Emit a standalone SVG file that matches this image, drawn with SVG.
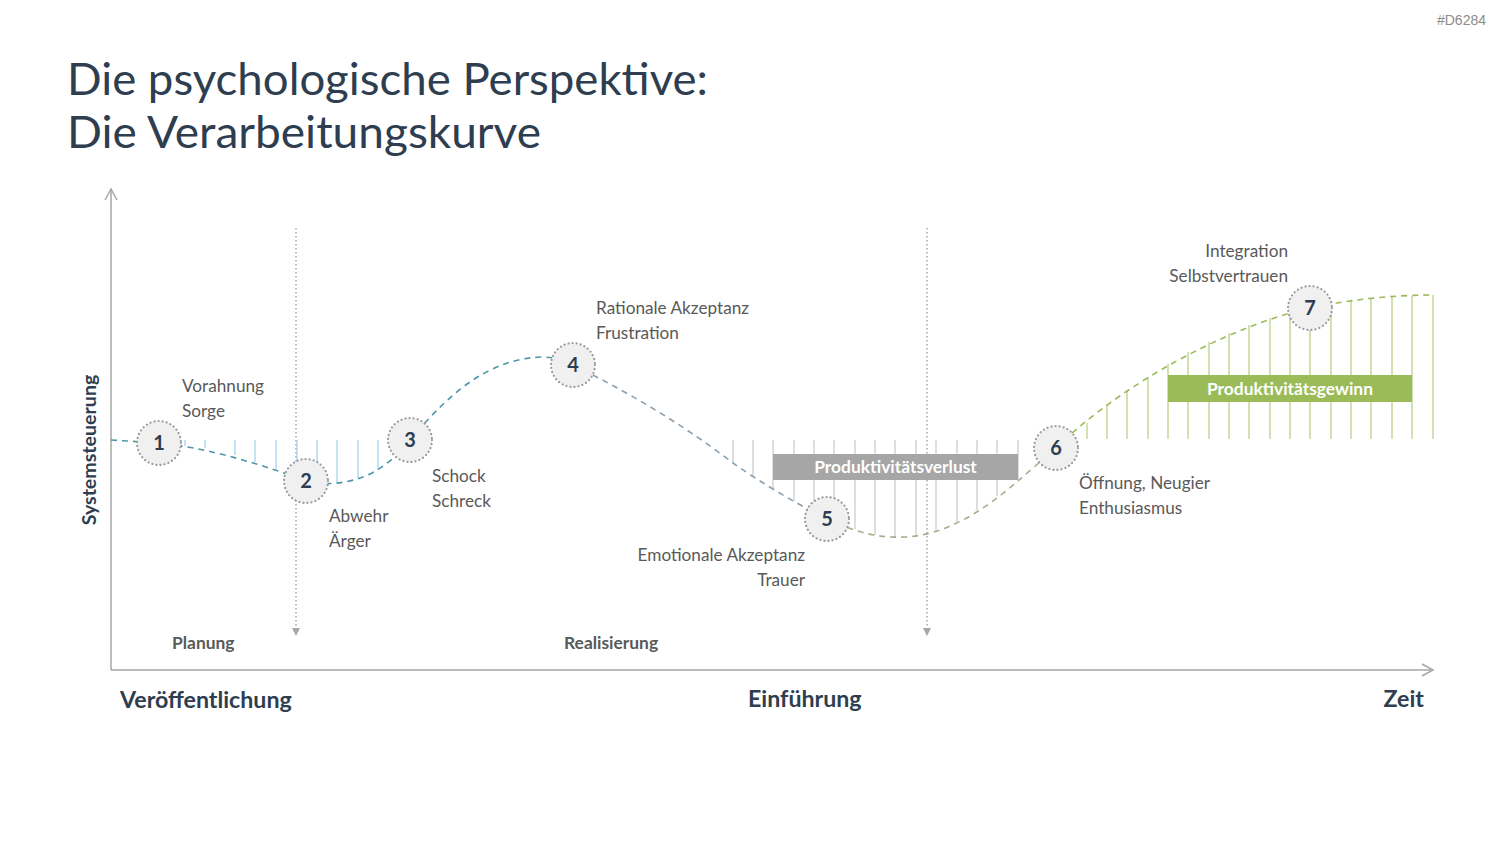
<svg xmlns="http://www.w3.org/2000/svg" width="1500" height="844" viewBox="0 0 1500 844">
<defs>
<style>
text{font-family:Lato,"Open Sans","Liberation Sans",sans-serif}
.title{font-size:44px;fill:#2e3e50}
.lbl{font-size:17.2px;fill:#595959}
.phase{font-size:17.4px;font-weight:bold;fill:#595959}
.mile{font-size:23.2px;font-weight:bold;fill:#2e3e50}
.num{font-size:20px;font-weight:bold;fill:#2e3e50;text-anchor:middle}
.circ{fill:#f0f0f0;stroke:#9a9a9a;stroke-width:2.2;stroke-dasharray:0.1 4;stroke-linecap:round}
.axis{stroke:#a6a6a6;stroke-width:1.5;fill:none}
.vdot{stroke:#a6a6a6;stroke-width:1.5;stroke-dasharray:1.5 2.5;fill:none}
.curve{fill:none;stroke-width:1.6;stroke-dasharray:6 5;stroke-linejoin:round}
.hb line{stroke:#9dd0ee;stroke-width:1.2}
.hg line{stroke:#c8c8c8;stroke-width:1.2}
.hn line{stroke:#b3cd7f;stroke-width:1.2}
.boxtxt{font-size:17.4px;font-weight:bold;fill:#ffffff;text-anchor:middle}
</style>
<marker id="openArr" markerWidth="14" markerHeight="14" refX="12" refY="7" orient="auto" markerUnits="userSpaceOnUse">
<path d="M1,1 L12,7 L1,13" fill="none" stroke="#a6a6a6" stroke-width="1.5"/>
</marker>
</defs>
<rect width="1500" height="844" fill="#ffffff"/>
<text x="1486" y="25" text-anchor="end" style="font-family:'Liberation Sans',sans-serif;font-size:14px;fill:#8c8c8c">#D6284</text>
<text class="title" x="67" y="95" textLength="641" lengthAdjust="spacingAndGlyphs">Die psychologische Perspektive:</text>
<text class="title" x="67" y="148" textLength="474" lengthAdjust="spacingAndGlyphs">Die Verarbeitungskurve</text>

<g id="axes">
<line class="axis" x1="111" y1="670" x2="111" y2="189" marker-end="url(#openArr)"/>
<line class="axis" x1="111" y1="670" x2="1433" y2="670" marker-end="url(#openArr)"/>
<text x="96" y="450" transform="rotate(-90 96 450)" text-anchor="middle" style="font-size:19.6px;font-weight:bold;fill:#2e3e50">Systemsteuerung</text>
</g>

<g id="phases">
<line class="vdot" x1="296" y1="228" x2="296" y2="628"/>
<path d="M292,628 L300,628 L296,636 Z" fill="#a6a6a6"/>
<line class="vdot" x1="927" y1="228" x2="927" y2="628"/>
<path d="M923,628 L931,628 L927,636 Z" fill="#a6a6a6"/>
<text class="phase" x="172" y="649">Planung</text>
<text class="phase" x="564" y="649">Realisierung</text>
<text class="mile" x="120" y="708">Veröffentlichung</text>
<text class="mile" x="748" y="707">Einführung</text>
<text class="mile" x="1424" y="707" text-anchor="end">Zeit</text>
</g>

<g id="hatch-blue" class="hb">
<line x1="185" y1="440" x2="185" y2="446"/>
<line x1="205" y1="440" x2="205" y2="448"/>
<line x1="235" y1="440" x2="235" y2="455"/>
<line x1="255" y1="440" x2="255" y2="462"/>
<line x1="276" y1="440" x2="276" y2="469"/>
<line x1="297" y1="440" x2="297" y2="476"/>
<line x1="317" y1="440" x2="317" y2="481"/>
<line x1="337" y1="440" x2="337" y2="482"/>
<line x1="358" y1="440" x2="358" y2="478"/>
<line x1="378" y1="440" x2="378" y2="470"/>
</g>

<g id="hatch-gray" class="hg">
<line x1="733" y1="440" x2="733" y2="463"/>
<line x1="753" y1="440" x2="753" y2="477"/>
<line x1="773" y1="440" x2="773" y2="489"/>
<line x1="794" y1="440" x2="794" y2="501"/>
<line x1="814" y1="440" x2="814" y2="512"/>
<line x1="834" y1="440" x2="834" y2="522"/>
<line x1="855" y1="440" x2="855" y2="529"/>
<line x1="875" y1="440" x2="875" y2="535"/>
<line x1="895" y1="440" x2="895" y2="537"/>
<line x1="916" y1="440" x2="916" y2="536"/>
<line x1="936" y1="440" x2="936" y2="531"/>
<line x1="957" y1="440" x2="957" y2="523"/>
<line x1="977" y1="440" x2="977" y2="510"/>
<line x1="997" y1="440" x2="997" y2="496"/>
<line x1="1018" y1="440" x2="1018" y2="480"/>
</g>

<g id="hatch-green" class="hn">
<line x1="1087" y1="439" x2="1087" y2="423"/>
<line x1="1107" y1="439" x2="1107" y2="404"/>
<line x1="1127" y1="439" x2="1127" y2="390"/>
<line x1="1148" y1="439" x2="1148" y2="377"/>
<line x1="1168" y1="439" x2="1168" y2="364"/>
<line x1="1188" y1="439" x2="1188" y2="352"/>
<line x1="1209" y1="439" x2="1209" y2="342"/>
<line x1="1229" y1="439" x2="1229" y2="333"/>
<line x1="1249" y1="439" x2="1249" y2="325"/>
<line x1="1270" y1="439" x2="1270" y2="318"/>
<line x1="1290" y1="439" x2="1290" y2="313"/>
<line x1="1310" y1="439" x2="1310" y2="308"/>
<line x1="1331" y1="439" x2="1331" y2="304"/>
<line x1="1351" y1="439" x2="1351" y2="301"/>
<line x1="1371" y1="439" x2="1371" y2="299"/>
<line x1="1392" y1="439" x2="1392" y2="297"/>
<line x1="1412" y1="439" x2="1412" y2="296"/>
<line x1="1433" y1="439" x2="1433" y2="295"/>
</g>

<g id="connectors">
<path class="curve" stroke="#4f95a8" d="M111,440 L159,443 C200,447 250,460 306,481 C325,486 350,484 372,473 C390,463 400,452 410,440 C440,405 480,360 540,357 C556,357 565,360 573,365"/>
<path class="curve" stroke="#8a9fae" d="M573,365 C640,398 690,430 733,463 C760,482 795,503 827,519"/>
<path class="curve" stroke="#a7af90" d="M827,519 C860,534 880,538 905,537 C950,535 990,505 1018,481 C1030,470 1045,458 1056,448"/>
<path class="curve" stroke="#9bbb59" d="M1056,448 C1110,395 1200,340 1290,313 C1340,300 1390,295 1433,295"/>
</g>

<g id="box-verlust">
<rect x="773" y="454" width="245" height="26" fill="#a6a6a6"/>
<text class="boxtxt" x="895.5" y="473">Produktivitätsverlust</text>
</g>
<g id="box-gewinn">
<rect x="1168" y="375" width="244" height="27" fill="#9bbb59"/>
<text class="boxtxt" x="1290" y="394.5">Produktivitätsgewinn</text>
</g>

<g id="node1"><circle class="circ" cx="159" cy="443" r="22"/><text class="num" x="159" y="450">1</text>
<text class="lbl" x="182" y="392">Vorahnung</text><text class="lbl" x="182" y="417">Sorge</text></g>
<g id="node2"><circle class="circ" cx="306" cy="481" r="22"/><text class="num" x="306" y="488">2</text>
<text class="lbl" x="329" y="522">Abwehr</text><text class="lbl" x="329" y="547">Ärger</text></g>
<g id="node3"><circle class="circ" cx="410" cy="440" r="22"/><text class="num" x="410" y="447">3</text>
<text class="lbl" x="432" y="482">Schock</text><text class="lbl" x="432" y="507">Schreck</text></g>
<g id="node4"><circle class="circ" cx="573" cy="365" r="22"/><text class="num" x="573" y="372">4</text>
<text class="lbl" x="596" y="314">Rationale Akzeptanz</text><text class="lbl" x="596" y="339">Frustration</text></g>
<g id="node5"><circle class="circ" cx="827" cy="519" r="22"/><text class="num" x="827" y="526">5</text>
<text class="lbl" x="805" y="561" text-anchor="end">Emotionale Akzeptanz</text><text class="lbl" x="805" y="586" text-anchor="end">Trauer</text></g>
<g id="node6"><circle class="circ" cx="1056" cy="448" r="22"/><text class="num" x="1056" y="455">6</text>
<text class="lbl" x="1079" y="489">Öffnung, Neugier</text><text class="lbl" x="1079" y="514">Enthusiasmus</text></g>
<g id="node7"><circle class="circ" cx="1310" cy="308" r="22"/><text class="num" x="1310" y="315">7</text>
<text class="lbl" x="1288" y="257" text-anchor="end">Integration</text><text class="lbl" x="1288" y="282" text-anchor="end">Selbstvertrauen</text></g>
</svg>
